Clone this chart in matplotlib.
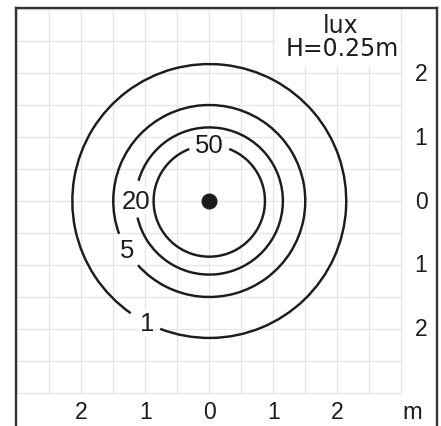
import numpy as np
import matplotlib
matplotlib.use("Agg")
import matplotlib.pyplot as plt
from matplotlib.patches import Arc, Rectangle

# iso-lux rings (radius in m)
levels = ["50", "20", "5", "1"]
radii = [0.87, 1.15, 1.50, 2.14]
# where each ring is cut for its label (degrees)
gap_from = [69, 164, 200, 235]
gap_to = [111, 193, 222, 249]
label_angle = [90, 180, 211, 243]

tick_vals = [-2, -1, 0, 1, 2]
tick_text = ["2", "1", "0", "1", "2"]
unit_x = "m"
title_lines = ["lux", "H=0.25m"]

ink = "#1c1c1c"
grid_c = "#e6e6e6"
tfont = "Liberation Sans"


def main():
    fig = plt.figure(figsize=(4.41, 4.27), dpi=100)
    # one metre is 64 px in the picture, centre at (209.3, 202)
    ax = fig.add_axes([16 / 441, 0, 421.5 / 441, 418 / 427])
    ax.set_xlim(-3.02, 3.566)
    ax.set_ylim(-3.516, 3.016)
    ax.set_xticks([])
    ax.set_yticks([])
    for s in ["left", "right", "top"]:
        ax.spines[s].set_linewidth(1.7)
        ax.spines[s].set_color("#333333")
    ax.spines["bottom"].set_visible(False)

    g = np.arange(-3, 3.01, 0.5)
    ax.vlines(g, -3, 3, color=grid_c, lw=0.9, zorder=0)
    ax.hlines(g, -3, 3, color=grid_c, lw=0.9, zorder=0)
    ax.add_patch(Rectangle((1.05, 2.1), 1.93, 0.95, fc="white", ec="none", zorder=1))

    for lev, r, a, b, la in zip(levels, radii, gap_from, gap_to, label_angle):
        ax.add_patch(Arc((0, 0), 2 * r, 2 * r, theta1=b, theta2=a + 360,
                         color=ink, lw=1.75, zorder=3))
        t = np.deg2rad(la)
        ax.text(r * np.cos(t), r * np.sin(t), lev, ha="center", va="center",
                fontsize=18.5, family=tfont, color=ink, zorder=4,
                bbox=dict(fc="white", ec="none", pad=0.5))

    ax.plot([0], [0], "o", color=ink, markersize=10.5, zorder=5)

    for v, s in zip(tick_vals, tick_text):
        ax.text(v, -3.29, s, ha="center", va="center", fontsize=16.5,
                family=tfont, color=ink)
        ax.text(3.31, v, s, ha="center", va="center", fontsize=16.5,
                family=tfont, color=ink)
    ax.text(3.17, -3.29, unit_x, ha="center", va="center", fontsize=17,
            family=tfont, color=ink)

    ax.text(2.05, 2.636, title_lines[0], ha="center", va="baseline",
            fontsize=17, family="DejaVu Sans", color=ink, zorder=4)
    ax.text(2.07, 2.28, title_lines[1], ha="center", va="baseline",
            fontsize=17, family="DejaVu Sans", color=ink, zorder=4)

    fig.savefig("out.png", dpi=100)


if __name__ == '__main__':
    main()
